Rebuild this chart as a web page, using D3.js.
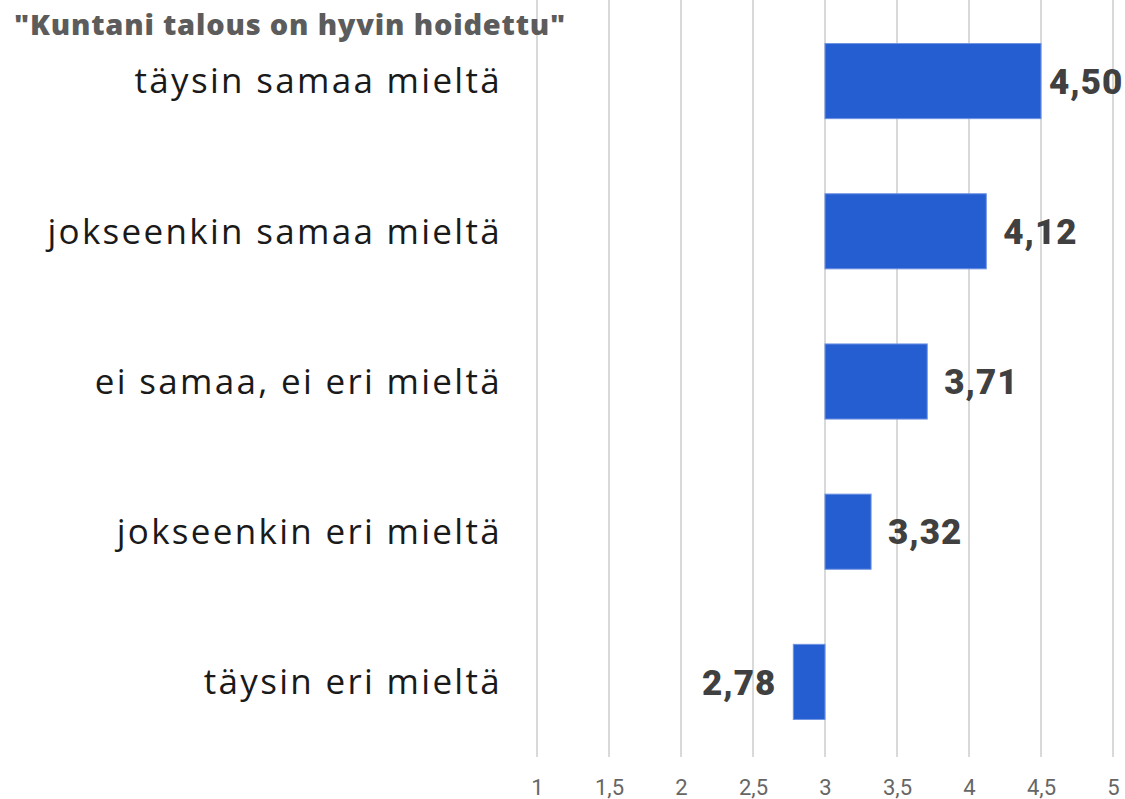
<!DOCTYPE html>
<html>
<head>
<meta charset="utf-8">
<script src="https://cdn.jsdelivr.net/npm/d3@7"></script>
<style>
  body { margin: 0; background: #fff; }
  svg { display: block; }
</style>
</head>
<body>
<svg id="chart" width="1125" height="799"></svg>
<script>
// data
var title = '"Kuntani talous on hyvin hoidettu"';
var categories = ["täysin samaa mieltä", "jokseenkin samaa mieltä", "ei samaa, ei eri mieltä", "jokseenkin eri mieltä", "täysin eri mieltä"];
var values = [4.50, 4.12, 3.71, 3.32, 2.78];
var tickValues = [1, 1.5, 2, 2.5, 3, 3.5, 4, 4.5, 5];
var baseValue = 3;

var W = 1125, H = 799;
var svg = d3.select("#chart");

var x = d3.scaleLinear().domain([1, 5]).range([537, 1113]);
var y = d3.scaleBand().domain(categories).range([6, 757]).paddingInner(0.5).paddingOuter(0.25);

var fmt = function(v, digits) {
    return d3.format(digits)(v).replace(".", ",");
};

// gridlines
svg.append("g")
    .selectAll("line")
    .data(tickValues)
    .join("line")
    .attr("x1", function(d) { return x(d); })
    .attr("x2", function(d) { return x(d); })
    .attr("y1", 0)
    .attr("y2", 757)
    .attr("stroke", "#d9d9d9")
    .attr("stroke-width", 2);

// x axis labels
var xAxis = svg.append("g")
    .attr("transform", "translate(0,757)")
    .call(d3.axisBottom(x).tickValues(tickValues).tickSize(0).tickPadding(22)
        .tickFormat(function(d) { return fmt(d, "~g"); }));
xAxis.select(".domain").remove();
xAxis.selectAll("text")
    .attr("fill", "#666")
    .style("font-family", "Roboto, sans-serif")
    .style("font-size", "22px");

// bars
svg.append("g")
    .selectAll("rect")
    .data(values)
    .join("rect")
    .attr("x", function(d) { return x(Math.min(d, baseValue)); })
    .attr("y", function(d, i) { return y(categories[i]); })
    .attr("width", function(d) { return Math.abs(x(d) - x(baseValue)); })
    .attr("height", y.bandwidth())
    .attr("fill", "#245ed1")
    .attr("stroke", "#6f93e2")
    .attr("stroke-width", 1);

// category labels
svg.append("g")
    .selectAll("text")
    .data(categories)
    .join("text")
    .attr("x", 502)
    .attr("y", function(d) { return y(d) + y.bandwidth() / 2; })
    .attr("dy", "0.35em")
    .attr("text-anchor", "end")
    .attr("fill", "#1a1a1a")
    .style("font-family", "'Open Sans', sans-serif")
    .style("font-size", "35px")
    .style("letter-spacing", "2.3px")
    .text(function(d) { return d; });

// value labels
svg.append("g")
    .selectAll("text")
    .data(values)
    .join("text")
    .attr("y", function(d, i) { return y(categories[i]) + y.bandwidth() / 2; })
    .attr("dy", "0.36em")
    .attr("fill", "#404040")
    .style("font-family", "Roboto, sans-serif")
    .style("font-weight", "900")
    .style("font-size", "35px")
    .style("letter-spacing", "1px")
    .attr("text-anchor", function(d) { return d >= baseValue ? "start" : "end"; })
    .text(function(d) { return fmt(d, ".2f"); })
    .each(function(d) {
        var t = d3.select(this);
        if (d >= baseValue) {
            var px = x(d) + 17;
            if (px + this.getComputedTextLength() > W) px = x(d) + 8;
            t.attr("x", px);
        } else {
            t.attr("x", x(d) - 17);
        }
    });

// title
svg.append("text")
    .attr("x", 14)
    .attr("y", 35)
    .attr("fill", "#5c5c5c")
    .style("font-family", "'Open Sans', sans-serif")
    .style("font-weight", "800")
    .style("font-size", "29px")
    .style("letter-spacing", "0.8px")
    .text(title);
</script>
</body>
</html>
